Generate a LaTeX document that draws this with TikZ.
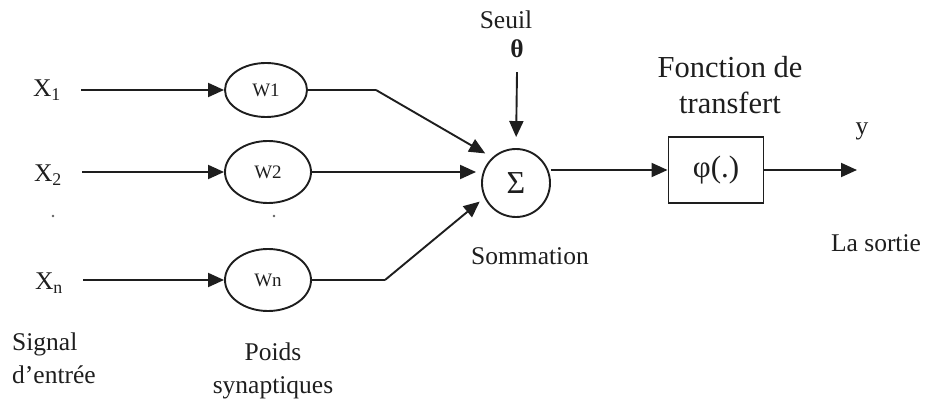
\documentclass[tikz,border=0pt]{standalone}
\usepackage{fontspec}
\setmainfont{Liberation Serif}
\usetikzlibrary{shapes.geometric,arrows.meta}
\definecolor{ink}{HTML}{1E1E1E}
\tikzset{
  lbl/.style={inner sep=0pt, text=ink, font=\fontsize{25.5}{33}\selectfont},
  wnode/.style={ellipse, draw=ink, line width=1.9pt, inner sep=0pt, text=ink,
                font=\fontsize{19}{20}\selectfont},
  arr/.style={draw=ink, line width=1.9pt, -{Triangle[length=16pt,width=14pt]}},
  wire/.style={draw=ink, line width=1.9pt},
}
\begin{document}
\begin{tikzpicture}[x=1pt,y=-1pt]
\useasboundingbox (0,0) rectangle (925,401);

% inputs
\node[lbl] (x1) at (47,90) {X\textsubscript{1}};
\node[lbl] (x2) at (48,175) {X\textsubscript{2}};
\node[lbl] (xn) at (49,283) {X\textsubscript{n}};

% synaptic weights
\node[wnode, minimum width=82pt, minimum height=54pt] (w1) at (266,90) {W1};
\node[wnode, minimum width=86pt, minimum height=62pt] (w2) at (268,172) {W2};
\node[wnode, minimum width=86pt, minimum height=62pt] (wn) at (268,280) {Wn};

% ellipsis dots
\fill[ink!70] (53,216) circle (1.3pt);
\fill[ink!70] (274,216) circle (1.3pt);

% summation
\node[circle, draw=ink, line width=1.9pt, minimum size=68pt, inner sep=0pt,
      text=ink, font=\fontsize{32}{34}\selectfont] (s) at (516,183) {Σ};
\node[lbl] (seuil) at (506,20) {Seuil};
\node[lbl] (theta) at (517,49) {\textbf{θ}};
\node[lbl] (somm) at (530,256) {Sommation};

% transfer function
\node[rectangle, draw=ink, line width=1.9pt, minimum width=95pt, minimum height=66pt,
      inner sep=0pt, text=ink, font=\fontsize{31}{34}\selectfont] (phi) at (716,170) {φ(.)};
\node[lbl, align=center, font=\fontsize{30.5}{36}\selectfont] (ftr) at (730,85) {Fonction de\\transfert};

% output
\coordinate (out) at (857,170);
\node[lbl] (y) at (862,131) {y};
\node[lbl] (sortie) at (876,243) {La sortie};

% bottom captions
\node[lbl, anchor=west, align=left] (sig) at (12,358) {Signal\\d’entrée};
\node[lbl, align=center] (poids) at (273,371) {Poids\\synaptiques};

% input arrows
\draw[arr] ([xshift=20pt]x1.east |- w1.west) -- (w1.west);
\draw[arr] ([xshift=20pt]x2.east |- w2.west) -- (w2.west);
\draw[arr] ([xshift=20pt]xn.east |- wn.west) -- (wn.west);

% weighted signals to the summation
\coordinate (b1) at (376,90);
\coordinate (bn) at (385,280);
\draw[wire] (w1.east) -- (b1);
\draw[arr, shorten >=8pt] (b1) -- (s.133);
\draw[arr, shorten >=5pt] (w2.east) -- (w2.east -| s.west);
\draw[wire] (wn.east) -- (bn);
\draw[arr, shorten >=6pt] (bn) -- (s.205);

% threshold
\draw[arr, shorten >=11pt] ([yshift=-14pt]theta.south) -- (s.north);

% summation to transfer function to output
\draw[arr] (phi.west -| s.east) -- (phi.west);
\draw[arr] (phi.east) -- (out);
\end{tikzpicture}
\end{document}
